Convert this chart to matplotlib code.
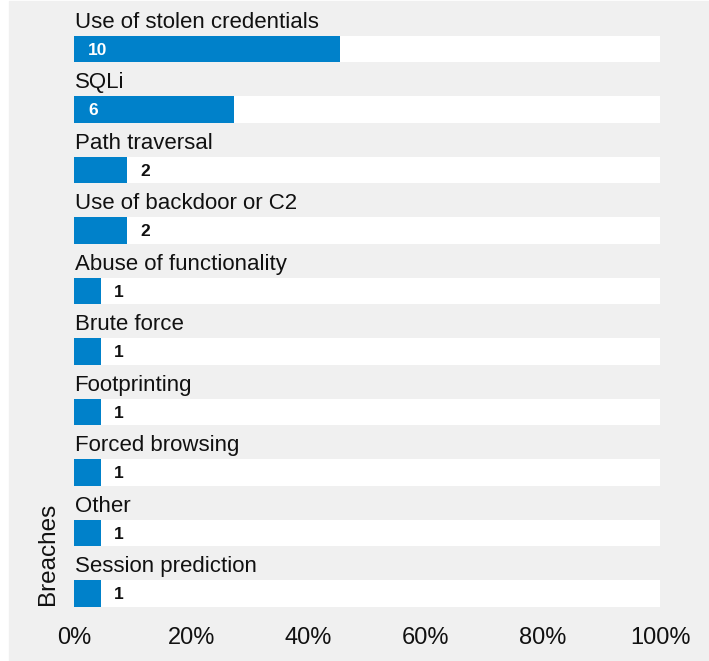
import matplotlib

matplotlib.use("Agg")
import matplotlib.pyplot as plt
from matplotlib.patches import Rectangle

plt.rcParams["font.family"] = ["Liberation Sans", "DejaVu Sans"]

categories = [
    "Use of stolen credentials", "SQLi", "Path traversal", "Use of backdoor or C2",
    "Abuse of functionality", "Brute force", "Footprinting", "Forced browsing",
    "Other", "Session prediction",
]
counts = [10, 6, 2, 2, 1, 1, 1, 1, 1, 1]
total = 22
pcts = [100.0 * c / total for c in counts]
ticks = [0, 20, 40, 60, 80, 100]
tick_labels = ["0%", "20%", "40%", "60%", "80%", "100%"]

BLUE = "#0081CA"
BG = "#f0f0f0"

W, H = 709, 661
fig = plt.figure(figsize=(W / 100, H / 100), dpi=100)
fig.patches.append(Rectangle((9 / W, 0), 1 - 9 / W, 1 - 1 / H,
                             transform=fig.transFigure, color=BG, zorder=-10))

# axes box in pixels: x 74..660, y 0..615
top_px, bot_px = 0, 615
ax = fig.add_axes([74 / W, 1 - bot_px / H, (660 - 74) / W, (bot_px - top_px) / H])
ax.set_facecolor("none")
row = 60.5
ax.set_xlim(0, 100)
ax.set_ylim((bot_px - 49) / row, (top_px - 49) / row)

n = len(categories)
ys = list(range(n))
ax.barh(ys, [100] * n, height=0.43, color="white", zorder=1)
ax.barh(ys, pcts, height=0.43, color=BLUE, zorder=2)

for y, cat, c, p in zip(ys, categories, counts, pcts):
    ax.text(0.1, y - 0.35, cat, fontsize=16, color="#111111", va="baseline", ha="left")
    if p > 20:
        ax.text(2.4, y + 0.02, str(c), fontsize=12.5, fontweight="bold", color="white",
                va="center", ha="left", zorder=3)
    else:
        ax.text(p + 2.3, y + 0.02, str(c), fontsize=12.5, fontweight="bold", color="#111111",
                va="center", ha="left", zorder=3)

ax.set_xticks(ticks)
ax.set_xticklabels(tick_labels, fontsize=17, color="#111111")
ax.tick_params(axis="x", length=0, pad=9)
ax.set_yticks([])
for s in ax.spines.values():
    s.set_visible(False)

fig.text(48 / W, 1 - 605 / H, "Breaches", rotation=90, fontsize=17.5, color="#111111",
         ha="center", va="bottom")

fig.savefig("out.png", dpi=100)
